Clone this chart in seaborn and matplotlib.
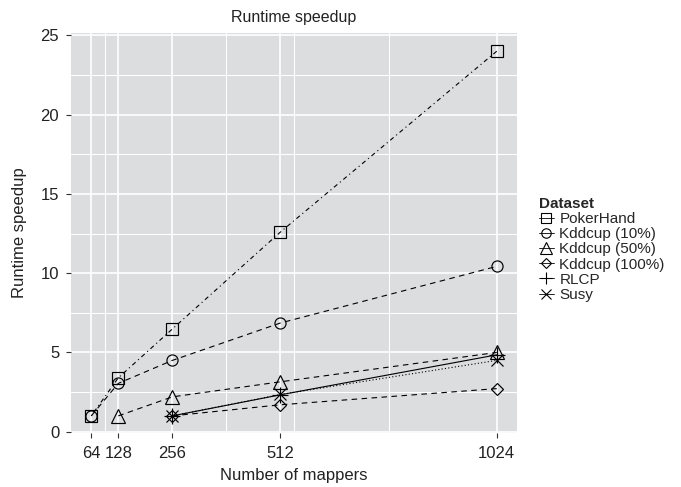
import pandas as pd
import numpy as np
import seaborn as sns
import matplotlib.pyplot as plt
from matplotlib.lines import Line2D

# values
datasets = ['PokerHand', 'Kddcup (10%)', 'Kddcup (50%)', 'Kddcup (100%)', 'RLCP', 'Susy']
mappers = {
    'PokerHand': [64, 128, 256, 512, 1024],
    'Kddcup (10%)': [64, 128, 256, 512, 1024],
    'Kddcup (50%)': [128, 256, 512, 1024],
    'Kddcup (100%)': [256, 512, 1024],
    'RLCP': [256, 512, 1024],
    'Susy': [256, 512, 1024],
}
speedup = {
    'PokerHand': [1.0, 3.4, 6.48, 12.6, 24.0],
    'Kddcup (10%)': [1.0, 3.05, 4.5, 6.86, 10.43],
    'Kddcup (50%)': [1.0, 2.2, 3.15, 5.0],
    'Kddcup (100%)': [1.0, 1.7, 2.72],
    'RLCP': [1.0, 2.33, 4.85],
    'Susy': [1.0, 2.35, 4.5],
}
x_ticks = [64, 128, 256, 512, 1024]
x_minor = [96, 384, 544, 768]

rows = []
for d in datasets:
    for m, s in zip(mappers[d], speedup[d]):
        rows.append({'Dataset': d, 'Number of mappers': m, 'Runtime speedup': s})
df = pd.DataFrame(rows)

marks = {'PokerHand': 's', 'Kddcup (10%)': 'o', 'Kddcup (50%)': '^',
         'Kddcup (100%)': 'D', 'RLCP': '+', 'Susy': 'x'}
msize = {'PokerHand': 8, 'Kddcup (10%)': 8, 'Kddcup (50%)': 9.5,
         'Kddcup (100%)': 6.5, 'RLCP': 11, 'Susy': 8}
dash = {'PokerHand': (1, 3, 4, 3), 'Kddcup (10%)': (5, 4), 'Kddcup (50%)': (5, 4),
        'Kddcup (100%)': (5, 4), 'RLCP': '', 'Susy': (1, 2)}

sns.set_style('white')
plt.rcParams['font.family'] = ['Liberation Sans', 'DejaVu Sans']

fig = plt.figure(figsize=(6.81, 4.87), dpi=100)
ax = fig.add_axes([71 / 681, 1 - 433 / 487, (517 - 71) / 681, 400 / 487])
ax.set_facecolor('#DCDDDF')

for d in datasets:
    sub = df[df['Dataset'] == d]
    sns.lineplot(data=sub, x='Number of mappers', y='Runtime speedup', ax=ax,
                 color='black', lw=0.8, marker=marks[d], ms=msize[d],
                 mfc='none', mec='black', mew=0.85, dashes=False, legend=False,
                 zorder=3)
    if dash[d]:
        ax.lines[-1].set_dashes(dash[d])
    else:
        ax.lines[-1].set_linestyle('-')

ax.set_xlim(16, 1072)
ax.set_ylim(-0.08, 25.15)
ax.set_xticks(x_ticks)
ax.set_xticks(x_minor, minor=True)
ax.set_yticks([0, 5, 10, 15, 20, 25])
ax.set_yticks([2.5, 7.5, 12.5, 17.5, 22.5], minor=True)
ax.grid(True, which='major', color='white', lw=1.2, zorder=0)
ax.grid(True, which='minor', color='white', lw=0.8, zorder=0)
ax.set_axisbelow(True)
for s in ax.spines.values():
    s.set_visible(False)
ax.tick_params(which='major', length=3.5, width=0.8, color='#333333',
               labelsize=12, labelcolor='#222222', bottom=True, left=True)
ax.tick_params(axis='x', which='major', pad=6)
ax.tick_params(axis='y', which='major', pad=5)
ax.tick_params(which='minor', length=0)

ax.set_xlabel('Number of mappers', fontsize=12, color='#222222', labelpad=5)
ax.set_ylabel('Runtime speedup', fontsize=12, color='#222222', labelpad=10)
ax.set_title('Runtime speedup', fontsize=11.5, color='#222222', pad=8)

handles = [Line2D([], [], color='black', lw=0.6, marker=marks[d], ms=msize[d] * 0.85,
                  mfc='none', mec='black', mew=0.8) for d in datasets]
leg = fig.legend(handles, datasets, title='Dataset', loc='upper left',
                 bbox_to_anchor=(528 / 681, 1 - 186 / 487), frameon=False,
                 fontsize=11, title_fontsize=11, handlelength=1.0,
                 handletextpad=0.35, labelspacing=0.08, borderpad=0.2)
leg.get_title().set_fontweight('bold')
leg._legend_box.align = 'left'

fig.savefig('out.png', dpi=100)
